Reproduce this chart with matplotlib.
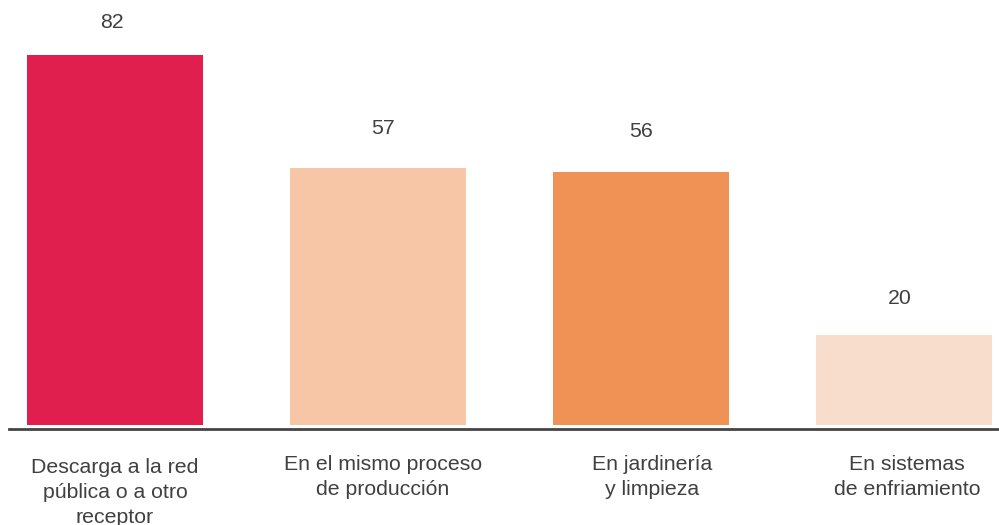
import matplotlib
matplotlib.use("Agg")
import matplotlib.pyplot as plt

# ── Data ──────────────────────────────────────────────────────────────────────
categories = [
    "Descarga a la red\npública o a otro\nreceptor",
    "En el mismo proceso\nde producción",
    "En jardinería\ny limpieza",
    "En sistemas\nde enfriamiento",
]
values = [82, 57, 56, 20]
colors = ["#E01F4F", "#F6C6A6", "#F09155", "#F9DDCC"]

# small (dx, dy) nudges in points to match the original label placement
CAT_NUDGE = [(0, -4), (3.5, -2), (8, -2), (2, -2)]
VAL_NUDGE = [(-2, 19.5), (3.6, 24), (0, 25.5), (-3, 22)]

TEXT = "#404040"
plt.rcParams["font.family"] = ["Liberation Sans", "DejaVu Sans"]

fig = plt.figure(figsize=(9.99, 5.25), dpi=100)
ax = fig.add_axes([0.009, 1 - 429 / 525, 0.991, 429 / 525])

xs = list(range(len(values)))
ax.bar(xs, values, width=0.669, color=colors, zorder=2)

for x, v, (dx, dy) in zip(xs, values, VAL_NUDGE):
    ax.annotate(f"{v}", (x, v), xytext=(dx, dy), textcoords="offset points",
                ha="center", va="baseline", fontsize=15.3, color=TEXT)

for x, lab, (dx, dy) in zip(xs, categories, CAT_NUDGE):
    ax.annotate(lab, (x, 0), xytext=(dx, -19.5 + dy), textcoords="offset points",
                ha="center", va="top", fontsize=15.3, color=TEXT,
                linespacing=1.4, annotation_clip=False)

ax.set_xlim(-0.403, 3.361)
ax.set_ylim(-0.9, 94.2)
ax.set_xticks([])
ax.set_yticks([])
for s in ["top", "right", "left"]:
    ax.spines[s].set_visible(False)
ax.spines["bottom"].set_color("#444444")
ax.spines["bottom"].set_linewidth(2)

fig.savefig("out.png", dpi=100, facecolor="white")
